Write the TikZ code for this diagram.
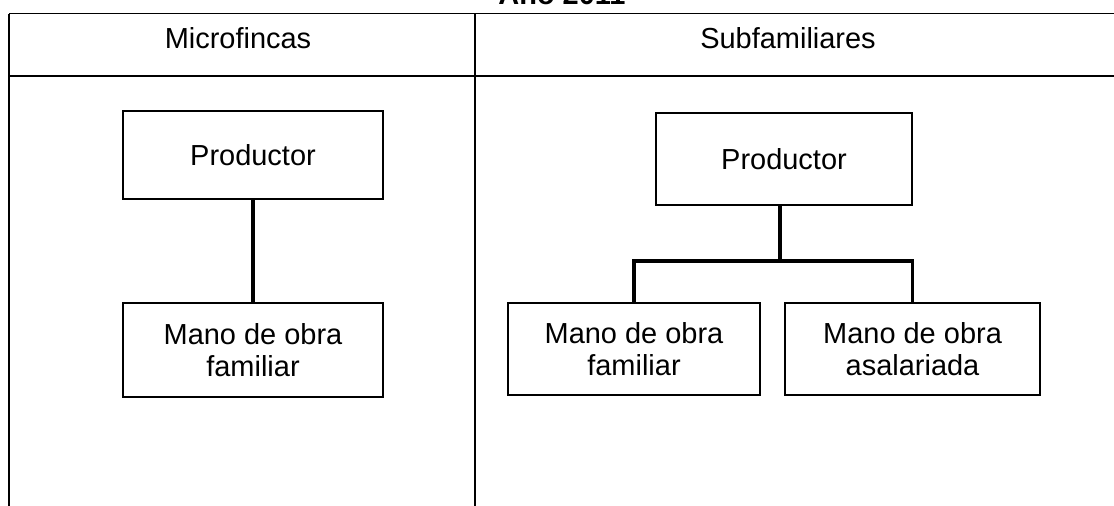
\documentclass[tikz,border=0pt]{standalone}
\usepackage{fontspec}
\setmainfont{Liberation Sans}
\usetikzlibrary{positioning}

\begin{document}
\begin{tikzpicture}[x=0.025cm, y=-0.025cm, font=\fontsize{20.6}{23}\selectfont,
    box/.style={rectangle, draw, line width=1.4pt, text centered, align=center, inner sep=0pt},
    link/.style={line width=2.5pt}]
    \useasboundingbox (0,0) rectangle (1114,506);
    % table
    \draw[line width=1pt] (9,13.5) -- (1114,13.5);
    \draw[line width=1pt] (9,76) -- (1114,76);
    \draw[line width=1pt] (9,13.5) -- (9,506);
    \draw[line width=1pt] (475,13.5) -- (475,506);
    \node[font=\fontsize{20.6}{23}\selectfont\bfseries, anchor=base] (title) at (562,5) {Año 2011};
    \node (micro) at (238,38) {Microfincas};
    \node (subfam) at (788,38) {Subfamiliares};

    % Microfincas
    \node[box, minimum width=6.5cm, minimum height=2.2cm] (prodA) at (253,155) {Productor};
    \node[box, minimum width=6.5cm, minimum height=2.35cm] (famA) at (253,350) {Mano de obra\\familiar};
    \draw[link] (prodA) -- (famA);

    % Subfamiliares
    \node[box, minimum width=6.4cm, minimum height=2.3cm] (prodB) at (784,159) {Productor};
    \node[box, minimum width=6.3cm, minimum height=2.3cm] (famB) at (634,349) {Mano de obra\\familiar};
    \node[box, minimum width=6.375cm, minimum height=2.3cm, right=0.575cm of famB] (asalB) {Mano de obra\\asalariada};
    \draw[link] (prodB.south) ++(-4,0) coordinate (stemB) -- ++(0,55) coordinate (barB);
    \draw[link] (famB.north) -- (famB.north |- barB) -- (asalB.north |- barB) -- (asalB.north);
\end{tikzpicture}
\end{document}
